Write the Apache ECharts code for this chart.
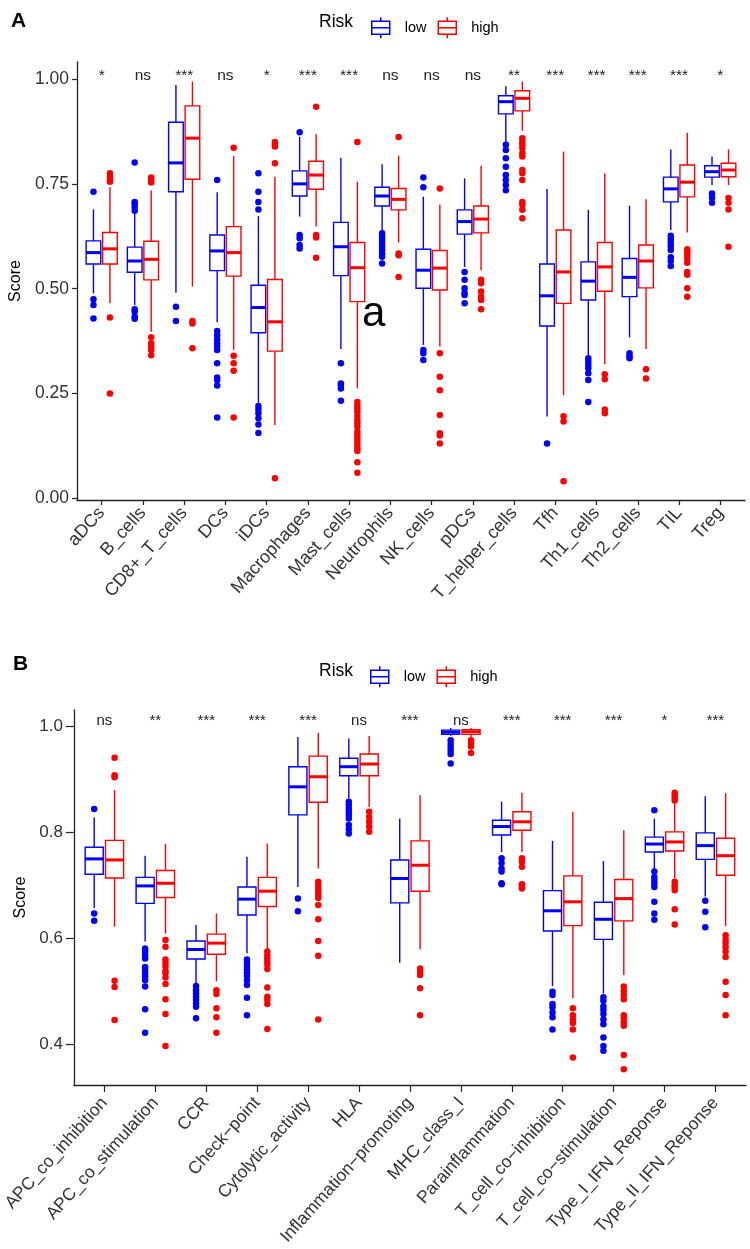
<!DOCTYPE html>
<html><head><meta charset="utf-8">
<script src="https://cdn.jsdelivr.net/npm/echarts@6/dist/echarts.min.js"></script>
<style>html,body{margin:0;padding:0;background:#fff}#c{width:750px;height:1249px}</style>
</head><body><div id="c"></div>
<script>
// ---------- Panel A data ----------
const catsA = ['aDCs','B_cells','CD8+_T_cells','DCs','iDCs','Macrophages','Mast_cells','Neutrophils','NK_cells','pDCs','T_helper_cells','Tfh','Th1_cells','Th2_cells','TIL','Treg'];
const sigA = ['*','ns','***','ns','*','***','***','ns','ns','ns','**','***','***','***','***','*'];
const yTicksA = [0, 0.25, 0.5, 0.75, 1.0];
// [lower whisker, Q1, median, Q3, upper whisker]
const lowA = [
  [0.489,0.559,0.586,0.614,0.689],[0.461,0.539,0.566,0.599,0.680],[0.490,0.731,0.800,0.897,0.986],
  [0.420,0.543,0.590,0.628,0.730],[0.228,0.395,0.455,0.508,0.673],[0.672,0.721,0.750,0.781,0.862],
  [0.356,0.531,0.600,0.658,0.812],[0.640,0.697,0.721,0.742,0.797],[0.366,0.501,0.544,0.594,0.719],
  [0.552,0.630,0.660,0.688,0.763],[0.850,0.917,0.946,0.960,0.983],[0.195,0.411,0.483,0.559,0.738],
  [0.342,0.473,0.518,0.564,0.688],[0.384,0.481,0.527,0.572,0.698],[0.640,0.707,0.738,0.766,0.832],
  [0.747,0.766,0.779,0.793,0.815]
];
const highA = [
  [0.465,0.559,0.595,0.634,0.742],[0.397,0.521,0.570,0.613,0.734],[0.505,0.761,0.859,0.936,0.994],
  [0.354,0.530,0.586,0.648,0.816],[0.175,0.351,0.421,0.522,0.767],[0.648,0.737,0.771,0.804,0.868],
  [0.262,0.469,0.550,0.610,0.755],[0.610,0.688,0.713,0.739,0.817],[0.362,0.497,0.549,0.591,0.700],
  [0.544,0.633,0.666,0.697,0.793],[0.877,0.924,0.954,0.972,0.994],[0.246,0.465,0.540,0.640,0.827],
  [0.320,0.494,0.552,0.610,0.775],[0.356,0.502,0.566,0.604,0.713],[0.634,0.719,0.754,0.795,0.872],
  [0.747,0.767,0.783,0.799,0.832]
];
const lowOutA = [
  [0.731,0.475,0.461,0.429],
  [0.801,0.707,0.702,0.695,0.686,0.451,0.445,0.433,0.428],
  [0.457,0.423],
  [0.759,0.399,0.389,0.379,0.370,0.362,0.354,0.322,0.288,0.282,0.269,0.193],
  [0.775,0.731,0.707,0.689,0.220,0.212,0.203,0.191,0.176,0.156],
  [0.873,0.628,0.620,0.604,0.596],
  [0.322,0.274,0.268,0.262,0.233],
  [0.632,0.624,0.616,0.608,0.600,0.592,0.584,0.576,0.560],
  [0.765,0.742,0.354,0.346,0.330],
  [0.540,0.521,0.501,0.490,0.485,0.465],
  [0.843,0.831,0.811,0.791,0.771,0.759,0.747,0.735],
  [0.131],
  [0.334,0.326,0.318,0.310,0.298,0.282,0.230],
  [0.346,0.339,0.334],
  [0.626,0.618,0.610,0.602,0.592,0.575,0.566,0.554],
  [0.727,0.717,0.705]
];
const highOutA = [
  [0.775,0.767,0.759,0.755,0.431,0.250],
  [0.765,0.759,0.753,0.384,0.370,0.362,0.354,0.341],
  [0.423,0.417,0.358],
  [0.836,0.340,0.322,0.304,0.193],
  [0.850,0.843,0.839,0.799,0.048],
  [0.934,0.628,0.622,0.574],
  [0.850,0.230,0.222,0.215,0.207,0.197,0.187,0.179,0.171,0.159,0.151,0.143,0.135,0.127,0.119,0.113,0.086,0.061],
  [0.862,0.584,0.580,0.528],
  [0.739,0.346,0.290,0.258,0.199,0.155,0.150,0.131],
  [0.521,0.513,0.493,0.481,0.473,0.451],
  [0.859,0.850,0.843,0.835,0.823,0.815,0.783,0.775,0.759,0.707,0.700,0.688,0.668],
  [0.196,0.183,0.041],
  [0.296,0.284,0.212,0.203],
  [0.308,0.286],
  [0.594,0.588,0.580,0.572,0.562,0.540,0.533,0.501,0.481],
  [0.716,0.705,0.689,0.600]
];

// ---------- Panel B data ----------
const catsB = ['APC_co_inhibition','APC_co_stimulation','CCR','Check\u2212point','Cytolytic_activity','HLA','Inflammation\u2212promoting','MHC_class_I','Parainflammation','T_cell_co\u2212inhibition','T_cell_co\u2212stimulation','Type_I_IFN_Reponse','Type_II_IFN_Reponse'];
const sigB = ['ns','**','***','***','***','ns','***','ns','***','***','***','*','***'];
const yTicksB = [0.4, 0.6, 0.8, 1.0];
const lowB = [
  [0.657,0.721,0.750,0.772,0.828],[0.594,0.666,0.699,0.715,0.756],[0.513,0.561,0.579,0.595,0.625],
  [0.572,0.644,0.674,0.697,0.754],[0.697,0.833,0.886,0.924,0.980],[0.864,0.907,0.924,0.940,0.977],
  [0.554,0.667,0.713,0.748,0.826],[0.982,0.985,0.989,0.993,0.997],[0.763,0.795,0.811,0.823,0.858],
  [0.510,0.614,0.652,0.690,0.784],[0.496,0.598,0.636,0.668,0.746],[0.729,0.763,0.778,0.791,0.826],
  [0.679,0.749,0.775,0.799,0.868]
];
const highB = [
  [0.622,0.714,0.748,0.785,0.880],[0.609,0.677,0.704,0.728,0.778],[0.519,0.570,0.591,0.608,0.647],
  [0.578,0.660,0.689,0.715,0.779],[0.732,0.857,0.905,0.944,0.988],[0.848,0.907,0.929,0.948,0.982],
  [0.579,0.689,0.738,0.784,0.870],[0.980,0.985,0.990,0.994,0.997],[0.763,0.804,0.820,0.839,0.875],
  [0.487,0.624,0.669,0.718,0.839],[0.531,0.633,0.675,0.711,0.804],[0.713,0.765,0.782,0.801,0.855],
  [0.623,0.719,0.756,0.789,0.874]
];
const lowOutB = [
  [0.844,0.647,0.633],
  [0.581,0.575,0.568,0.562,0.546,0.540,0.534,0.528,0.521,0.509,0.466,0.422],
  [0.510,0.502,0.496,0.490,0.484,0.477,0.471,0.449],
  [0.560,0.554,0.548,0.541,0.535,0.529,0.521,0.512,0.488,0.455],
  [0.675,0.651],
  [0.858,0.852,0.845,0.839,0.833,0.826,0.814,0.806,0.798],
  [],
  [0.974,0.967,0.960,0.954,0.948,0.930],
  [0.751,0.742,0.732,0.726,0.704,0.702],
  [0.499,0.493,0.476,0.470,0.460,0.451,0.428],
  [0.489,0.482,0.472,0.465,0.457,0.447,0.438,0.413,0.397,0.388],
  [0.842,0.726,0.716,0.710,0.704,0.697,0.669,0.647,0.635],
  [0.671,0.650,0.621]
];
const highOutB = [
  [0.941,0.908,0.904,0.520,0.508,0.446],
  [0.597,0.584,0.560,0.554,0.548,0.539,0.534,0.526,0.514,0.485,0.457,0.397],
  [0.502,0.495,0.468,0.451,0.422],
  [0.575,0.568,0.562,0.556,0.550,0.542,0.507,0.490,0.484,0.476,0.429],
  [0.707,0.700,0.694,0.688,0.682,0.676,0.663,0.636,0.595,0.567,0.447],
  [0.839,0.829,0.820,0.811,0.801],
  [0.543,0.537,0.531,0.506,0.455],
  [0.974,0.968,0.962,0.950],
  [0.751,0.745,0.735,0.702,0.701,0.696,0.694],
  [0.468,0.455,0.447,0.440,0.428,0.375],
  [0.509,0.501,0.493,0.485,0.455,0.449,0.441,0.435,0.380,0.353],
  [0.875,0.870,0.865,0.860,0.707,0.700,0.697,0.691,0.655,0.626],
  [0.606,0.598,0.591,0.583,0.575,0.565,0.518,0.493,0.455]
];

// ---------- styling ----------
const BLUE = '#0000FF', RED = '#FF0000';
const FONT = "'Liberation Sans', Arial, sans-serif";
const DODGE = 0.2, BOXW = 0.355;
const ICON = 'path://M9,0L9,4M0,4L18,4L18,17L0,17ZM0,10.5L18,10.5M9,17L9,21';

function boxRender(offset, color) {
  return function (params, api) {
    const i = api.value(0);
    const unit = api.size([1, 0])[0];
    const cx = api.coord([i + offset, 0])[0];
    const hw = unit * BOXW / 2;
    const y = k => api.coord([i, api.value(k)])[1];
    const lw = y(1), q1 = y(2), md = y(3), q3 = y(4), uw = y(5);
    const ls = { stroke: color, lineWidth: 1.4 };
    return { type: 'group', children: [
      { type: 'line', shape: { x1: cx, y1: uw, x2: cx, y2: q3 }, style: ls },
      { type: 'line', shape: { x1: cx, y1: q1, x2: cx, y2: lw }, style: ls },
      { type: 'rect', shape: { x: cx - hw, y: q3, width: 2 * hw, height: q1 - q3 }, style: { fill: '#fff', stroke: color, lineWidth: 1.4 } },
      { type: 'line', shape: { x1: cx - hw, y1: md, x2: cx + hw, y2: md }, style: { stroke: color, lineWidth: 3 } }
    ]};
  };
}
function sigRender(labels, fs) {
  return function (params, api) {
    const p = api.coord([api.value(0), api.value(1)]);
    return { type: 'text', x: p[0], y: p[1], style: { text: labels[params.dataIndex], fontSize: fs, fontFamily: FONT, fill: '#222', align: 'center', verticalAlign: 'middle' } };
  };
}
function panelSeries(g, cats, low, high, lowOut, highOut, sig, sigY, sigFs) {
  const ax = { xAxisIndex: g, yAxisIndex: g };
  return [
    Object.assign({ type: 'custom', name: 'low', renderItem: boxRender(-DODGE, BLUE), itemStyle: { color: BLUE },
      encode: { x: 0, y: [1, 2, 3, 4, 5] }, data: low.map((b, i) => [i].concat(b)), z: 2 }, ax),
    Object.assign({ type: 'custom', name: 'high', renderItem: boxRender(DODGE, RED), itemStyle: { color: RED },
      encode: { x: 0, y: [1, 2, 3, 4, 5] }, data: high.map((b, i) => [i].concat(b)), z: 2 }, ax),
    Object.assign({ type: 'scatter', name: 'low', symbolSize: 6.5, itemStyle: { color: BLUE, opacity: 1 }, z: 3,
      data: lowOut.flatMap((arr, i) => arr.map(v => [i - DODGE, v])) }, ax),
    Object.assign({ type: 'scatter', name: 'high', symbolSize: 6.5, itemStyle: { color: RED, opacity: 1 }, z: 3,
      data: highOut.flatMap((arr, i) => arr.map(v => [i + DODGE, v])) }, ax),
    Object.assign({ type: 'custom', name: 'sig' + g, renderItem: sigRender(sig, sigFs), z: 4,
      data: sig.map((s, i) => [i, sigY]) }, ax)
  ];
}
function xAxisCfg(g, cats, tickLen, fs, margin) {
  const idx = cats.map((_, i) => i);
  return {
    type: 'value', gridIndex: g, min: -0.6, max: cats.length - 0.4,
    splitLine: { show: false },
    axisLine: { show: true, onZero: false, lineStyle: { color: '#222', width: 1.3 } },
    axisTick: { show: true, customValues: idx, length: tickLen, lineStyle: { color: '#222', width: 1.2 } },
    axisLabel: { customValues: idx, formatter: v => cats[Math.round(v)], rotate: 48, fontSize: fs, fontFamily: FONT,
      color: '#333', margin: margin, padding: [12, 0, 0, 0] }
  };
}
function yAxisCfg(g, min, max, ticks, dec, tickLen, margin, gap, fs) {
  return {
    type: 'value', gridIndex: g, min: min, max: max,
    splitLine: { show: false },
    axisLine: { show: true, onZero: false, lineStyle: { color: '#222', width: 1.3 } },
    axisTick: { show: true, customValues: ticks, length: tickLen, lineStyle: { color: '#222', width: 1.2 } },
    axisLabel: { customValues: ticks, formatter: v => v.toFixed(dec), fontSize: fs, fontFamily: FONT, color: '#333', margin: margin },
    name: 'Score', nameLocation: 'middle', nameGap: gap,
    nameTextStyle: { fontSize: 16, fontFamily: FONT, color: '#000' }
  };
}
function legendCfg(left, top) {
  return {
    left: left, top: top, orient: 'horizontal', itemWidth: 18, itemHeight: 21, itemGap: 11, selectedMode: false,
    textStyle: { fontSize: 14.5, fontFamily: FONT, color: '#000', padding: [0, 0, 0, 10] },
    data: [
      { name: 'low', icon: ICON, itemStyle: { color: '#fff', borderColor: BLUE, borderWidth: 1.5 } },
      { name: 'high', icon: ICON, itemStyle: { color: '#fff', borderColor: RED, borderWidth: 1.5 } }
    ]
  };
}

const chart = echarts.init(document.getElementById('c'), null, { renderer: 'canvas' });
chart.setOption({
  animation: false,
  backgroundColor: '#fff',
  textStyle: { fontFamily: FONT },
  grid: [
    { left: 70, right: 5, top: 62, bottom: 749 },
    { left: 66, right: 4, top: 710, bottom: 164 }
  ],
  xAxis: [ xAxisCfg(0, catsA, 5, 18, 10), xAxisCfg(1, catsB, 7, 17.5, 15) ],
  yAxis: [
    yAxisCfg(0, -0.004, 1.0406, yTicksA, 2, 5, 8, 52, 17.5),
    yAxisCfg(1, 0.3232, 1.031, yTicksB, 1, 8, 11, 41, 17)
  ],
  legend: [ legendCfg(366, 11.5), legendCfg(365, 660.5) ],
  series: [].concat(
    panelSeries(0, catsA, lowA, highA, lowOutA, highOutA, sigA, 1.0067, 15.5),
    panelSeries(1, catsB, lowB, highB, lowOutB, highOutB, sigB, 1.0096, 15)
  ),
  graphic: [
    { type: 'text', x: 11, y: 21, style: { text: 'A', fontSize: 21, fontWeight: 'bold', fontFamily: FONT, fill: '#000', verticalAlign: 'middle' } },
    { type: 'text', x: 319, y: 22, style: { text: 'Risk', fontSize: 17.5, fontFamily: FONT, fill: '#000', verticalAlign: 'middle' } },
    { type: 'text', x: 362, y: 314, style: { text: 'a', fontSize: 42, fontFamily: FONT, fill: '#000', verticalAlign: 'middle' } },
    { type: 'text', x: 13, y: 664, style: { text: 'B', fontSize: 21, fontWeight: 'bold', fontFamily: FONT, fill: '#000', verticalAlign: 'middle' } },
    { type: 'text', x: 319, y: 671, style: { text: 'Risk', fontSize: 17.5, fontFamily: FONT, fill: '#000', verticalAlign: 'middle' } }
  ]
});
</script></body></html>
